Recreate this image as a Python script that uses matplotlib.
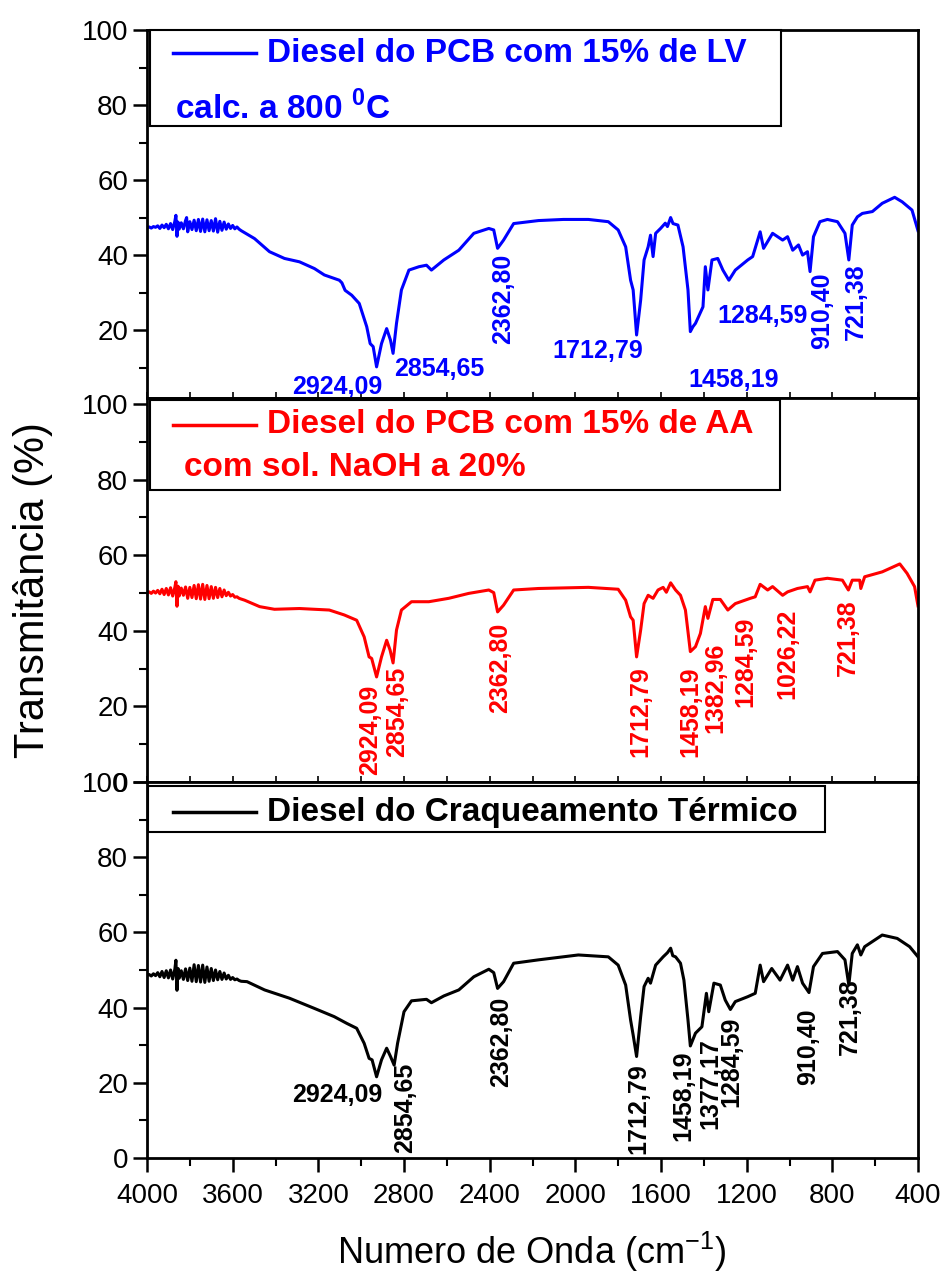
import matplotlib
matplotlib.use('Agg')
import matplotlib.pyplot as plt
from matplotlib.patches import Rectangle
from matplotlib.ticker import MultipleLocator

plt.rcParams['font.family'] = ['Liberation Sans', 'DejaVu Sans']
plt.rcParams['mathtext.fontset'] = 'custom'
plt.rcParams['mathtext.rm'] = 'Liberation Sans'
plt.rcParams['mathtext.bf'] = 'Liberation Sans:bold'

# ---- espectro 1: Diesel do PCB com 15% de LV (azul)
w_lv = [4000, 3990, 3980, 3970, 3960, 3950, 3940, 3930, 3920, 3910, 3900, 3890, 3880, 3870, 3865,
        3860, 3855, 3850, 3840, 3830, 3820, 3815, 3810, 3800, 3790, 3780, 3770, 3760, 3750, 3740,
        3730, 3720, 3710, 3700, 3690, 3680, 3670, 3660, 3650, 3640, 3630, 3620, 3610, 3600, 3590,
        3580, 3570, 3560,
        3498, 3428, 3358, 3288, 3218, 3172, 3102, 3090, 3075, 3044, 3009, 2974, 2958, 2944, 2928,
        2905, 2881, 2863, 2851, 2835, 2812, 2777, 2730, 2695, 2672, 2614, 2544, 2474, 2404, 2381,
        2363, 2335, 2288, 2172, 2056, 1939, 1846, 1800, 1765, 1742, 1730, 1714, 1695, 1679, 1660,
        1649, 1637, 1625, 1602, 1580, 1570, 1555, 1544, 1521, 1497, 1474, 1463, 1451, 1439, 1404,
        1393, 1381, 1362, 1335, 1311, 1283, 1253, 1195, 1172, 1137, 1121, 1079, 1032, 1009, 985,
        958, 939, 916, 904, 888, 858, 823, 776, 741, 723, 707, 683, 660, 613, 567, 509, 474, 428, 400]
t_lv = [47.3, 47.5, 47.2, 47.6, 47.4, 47.8, 47.1, 48.0, 47.3, 48.2, 47.0, 48.4, 46.8, 49.0, 50.6,
        45.0, 48.8, 46.9, 48.6, 47.0, 49.2, 50.0, 46.2, 48.9, 46.8, 49.3, 46.5, 49.5, 46.3, 49.6,
        46.2, 49.4, 46.5, 49.2, 46.4, 49.7, 46.1, 49.0, 46.6, 48.8, 46.9, 48.3, 47.1, 47.9, 47.0,
        47.5, 46.9, 46.5,
        44.4, 40.9, 39.1, 38.2, 36.4, 34.7, 33.3, 32.6, 30.6, 29.3, 27.1, 20.9, 16.4, 15.6, 10.2,
        16.4, 20.4, 17.3, 13.8, 21.8, 30.7, 36.0, 36.9, 37.3, 36.0, 38.7, 41.3, 45.8, 47.1, 46.7,
        41.8, 44.0, 48.4, 49.2, 49.5, 49.5, 48.9, 46.7, 42.2, 33.3, 30.7, 18.7, 28.0, 38.7, 42.2,
        45.3, 39.6, 45.8, 47.1, 48.5, 47.6, 50.0, 48.4, 48.0, 42.2, 30.7, 19.6, 20.9, 21.8, 26.2,
        36.9, 30.7, 38.7, 39.1, 36.0, 33.3, 36.0, 38.7, 39.6, 46.2, 41.8, 45.8, 44.0, 44.9, 41.3,
        42.7, 40.0, 40.9, 35.6, 44.9, 48.9, 49.5, 48.9, 45.8, 38.7, 48.0, 50.2, 51.1, 51.6, 53.8,
        55.4, 54.2, 52.0, 46.5]

# ---- espectro 2: Diesel do PCB com 15% de AA (vermelho)
w_aa = [4000, 3990, 3980, 3970, 3960, 3950, 3940, 3930, 3920, 3910, 3900, 3890, 3880, 3870, 3865,
        3860, 3855, 3850, 3840, 3830, 3820, 3810, 3800, 3790, 3780, 3770, 3760, 3750, 3740, 3730,
        3720, 3710, 3700, 3690, 3680, 3670, 3660, 3650, 3640, 3630, 3620, 3610, 3600, 3590, 3580,
        3570, 3560,
        3544, 3474, 3405, 3288, 3149, 3079, 3021, 2986, 2963, 2951, 2928, 2905, 2881, 2865, 2851,
        2835, 2812, 2765, 2684, 2591, 2498, 2404, 2381, 2363, 2335, 2288, 2172, 1939, 1800, 1765,
        1742, 1730, 1714, 1695, 1679, 1660, 1637, 1614, 1590, 1575, 1555, 1532, 1509, 1486, 1463,
        1439, 1416, 1393, 1381, 1358, 1323, 1288, 1253, 1183, 1160, 1137, 1102, 1079, 1032, 1009,
        963, 916, 904, 881, 823, 753, 725, 707, 672, 667, 649, 567, 485, 451, 416, 400]
t_aa = [50.1, 50.3, 49.9, 50.5, 50.0, 50.7, 49.8, 51.0, 49.6, 51.2, 49.5, 51.4, 49.2, 51.5, 53.0,
        46.5, 51.8, 49.2, 51.3, 49.4, 51.6, 48.6, 51.5, 48.8, 52.0, 48.5, 52.2, 48.4, 52.3, 48.3,
        52.0, 48.5, 51.7, 48.6, 51.5, 48.8, 51.2, 49.0, 50.8, 49.3, 50.2, 49.2, 49.6, 48.9, 49.0,
        48.6, 48.4,
        48.1, 46.4, 45.7, 45.9, 45.5, 44.2, 42.8, 38.4, 33.1, 32.7, 27.8, 33.1, 37.5, 34.9, 31.5,
        40.2, 45.5, 47.7, 47.7, 48.6, 49.9, 50.8, 50.1, 45.0, 46.8, 50.8, 51.2, 51.5, 51.0, 48.1,
        43.7, 42.8, 33.1, 40.2, 47.2, 49.4, 48.6, 50.8, 51.5, 50.2, 52.7, 50.8, 49.4, 45.5, 34.5,
        35.8, 39.3, 46.4, 43.3, 48.3, 48.3, 45.5, 47.2, 48.6, 49.0, 52.3, 50.8, 51.7, 49.4, 50.3,
        51.2, 51.7, 50.3, 53.4, 53.9, 53.4, 50.8, 53.4, 53.4, 51.2, 54.3, 55.6, 57.7, 55.2, 51.7, 46.6]

# ---- espectro 3: Diesel do Craqueamento Termico (preto)
w_ct = [4000, 3990, 3980, 3970, 3960, 3950, 3940, 3930, 3920, 3910, 3900, 3890, 3880, 3870, 3865,
        3860, 3855, 3850, 3840, 3830, 3820, 3810, 3800, 3790, 3780, 3770, 3760, 3750, 3740, 3730,
        3720, 3710, 3700, 3690, 3680, 3670, 3660, 3650, 3640, 3630, 3620, 3610, 3600, 3590, 3580,
        3570, 3560,
        3533, 3451, 3335, 3219, 3126, 3067, 3021, 2986, 2963, 2949, 2928, 2905, 2881, 2863, 2846,
        2830, 2800, 2765, 2695, 2672, 2614, 2544, 2474, 2404, 2381, 2363, 2335, 2288, 2172, 1986,
        1846, 1800, 1765, 1742, 1730, 1714, 1695, 1679, 1660, 1649, 1625, 1590, 1570, 1555, 1545,
        1532, 1509, 1493, 1474, 1463, 1439, 1409, 1388, 1377, 1353, 1323, 1300, 1276, 1253, 1195,
        1160, 1137, 1121, 1083, 1044, 1009, 985, 963, 939, 909, 888, 846, 776, 741, 723, 707, 683,
        667, 649, 567, 497, 439, 400]
t_ct = [48.6, 48.8, 48.4, 49.0, 48.5, 49.3, 48.2, 49.6, 48.0, 49.8, 47.9, 50.0, 47.6, 50.2, 52.6,
        44.6, 50.4, 47.8, 49.8, 47.5, 50.3, 47.2, 50.5, 47.0, 51.4, 46.9, 51.2, 46.8, 51.3, 46.7,
        50.8, 47.0, 50.4, 47.2, 50.0, 47.4, 49.6, 47.5, 49.2, 47.6, 48.6, 47.5, 48.0, 47.4, 47.6,
        47.2, 47.0,
        46.9, 44.7, 42.5, 39.8, 37.6, 35.8, 34.5, 30.5, 26.5, 26.1, 21.6, 26.1, 29.2, 27.0, 24.7,
        30.5, 38.9, 41.8, 42.2, 41.3, 43.1, 44.7, 48.2, 50.2, 49.3, 45.1, 46.9, 51.8, 52.7, 54.0,
        53.5, 51.3, 46.0, 36.7, 32.7, 27.0, 37.6, 45.6, 47.8, 46.5, 51.3, 53.5, 54.6, 55.8, 53.8,
        53.5, 51.8, 47.3, 36.7, 29.8, 33.2, 34.9, 43.8, 38.9, 46.5, 46.0, 42.0, 39.5, 41.6, 42.9,
        43.8, 51.3, 46.9, 50.4, 47.3, 51.3, 47.3, 50.9, 46.5, 44.0, 50.9, 54.4, 54.9, 52.7, 46.0,
        54.4, 56.7, 54.0, 56.2, 59.3, 58.4, 56.2, 53.5]

# rotulos dos picos: texto, posicao (x, y), rotacao
picos_lv = ['2924,09', '2854,65', '2362,80', '1712,79', '1458,19', '1284,59', '910,40', '721,38']
pos_lv = [(3114, 4.9), (2637, 9.6), (2335, 28.3), (1893, 14.5), (1259, 6.6), (1125, 23.8),
          (846, 25.2), (690, 27.5)]
rot_lv = [0, 0, 90, 0, 0, 0, 90, 90]

picos_aa = ['2924,09', '2854,65', '2362,80', '1712,79', '1458,19', '1382,96', '1284,59',
            '1026,22', '721,38']
pos_aa = [(2959, 13.8), (2830, 18.6), (2353, 30.1), (1695, 18.5), (1462, 18.5), (1346, 24.8),
          (1206, 31.8), (1009, 33.9), (729, 38.1)]
rot_aa = [90] * 9

picos_ct = ['2924,09', '2854,65', '2362,80', '1712,79', '1458,19', '1377,17', '1284,59',
            '910,40', '721,38']
pos_ct = [(3114, 16.8), (2795, 13.3), (2347, 30.8), (1707, 13.0), (1497, 16.6), (1369, 19.7),
          (1271, 25.5), (915, 29.6), (718, 37.6)]
rot_ct = [0, 90, 90, 90, 90, 90, 90, 90, 90]

fig = plt.figure(figsize=(9.44, 12.77), dpi=100)
L, W = 147 / 944, 771 / 944
ax1 = fig.add_axes([L, 1 - 398 / 1277, W, 368 / 1277])
ax2 = fig.add_axes([L, 1 - 782 / 1277, W, 384 / 1277])
ax3 = fig.add_axes([L, 1 - 1158 / 1277, W, 376 / 1277])


def painel(ax, w, t, cor, picos, pos, rot, ylim):
    ax.plot(w, t, color=cor, lw=2.2)
    ax.set_xlim(4000, 400)
    ax.set_ylim(*ylim)
    ax.xaxis.set_major_locator(MultipleLocator(400))
    ax.xaxis.set_minor_locator(MultipleLocator(200))
    ax.yaxis.set_major_locator(MultipleLocator(20))
    ax.yaxis.set_minor_locator(MultipleLocator(10))
    for s in ax.spines.values():
        s.set_linewidth(2)
    ax.tick_params(axis='y', which='major', direction='out', length=10, width=1.8, labelsize=20)
    ax.tick_params(axis='y', which='minor', direction='out', length=6, width=1.5)
    for txt, (x, y), r in zip(picos, pos, rot):
        ax.text(x, y, txt, color=cor, fontsize=18, fontweight='bold', rotation=r,
                ha='center', va='center')


painel(ax1, w_lv, t_lv, '#0000FF', picos_lv, pos_lv, rot_lv, (1.9, 100))
painel(ax2, w_aa, t_aa, '#FF0000', picos_aa, pos_aa, rot_aa, (0, 101.6))
painel(ax3, w_ct, t_ct, 'black', picos_ct, pos_ct, rot_ct, (0, 100))

for ax in (ax1, ax2):
    ax.tick_params(axis='x', which='both', direction='in', length=4, width=1.2, labelbottom=False)
ax3.tick_params(axis='x', which='major', direction='out', length=10, width=1.8, labelsize=20, pad=8)
ax3.tick_params(axis='x', which='minor', direction='out', length=6, width=1.5)


# caixas de legenda
def legenda(ax, box, ly, linhas, cor):
    ax.add_patch(Rectangle((box[0], box[1]), box[2], box[3], transform=ax.transAxes,
                           fill=True, facecolor='white', edgecolor='black', lw=1.5,
                           zorder=5, clip_on=False))
    ax.plot([0.034, 0.141], [ly, ly], color=cor, lw=2.5, transform=ax.transAxes, zorder=6)
    for txt, x, y in linhas:
        ax.text(x, y, txt, color=cor, fontsize=24, fontweight='bold', transform=ax.transAxes,
                ha='left', va='center', zorder=6)


legenda(ax1, (0.004, 0.739, 0.818, 0.261), 0.9375,
        [('Diesel do PCB com 15% de LV', 0.156, 0.9375),
         (r'calc. a 800 $^\mathbf{0}$C', 0.036, 0.787)], '#0000FF')
legenda(ax2, (0.004, 0.760, 0.817, 0.234), 0.930,
        [('Diesel do PCB com 15% de AA', 0.156, 0.930),
         ('com sol. NaOH a 20%', 0.048, 0.818)], '#FF0000')
legenda(ax3, (0.001, 0.867, 0.878, 0.122), 0.920,
        [('Diesel do Craqueamento Térmico', 0.156, 0.920)], 'black')

fig.text(33 / 944, 1 - 590 / 1277, 'Transmitância (%)', rotation=90, ha='center', va='center',
         fontsize=30)
fig.text(532 / 944, 1 - 1252 / 1277, r'Numero de Onda (cm$^{-1}$)', ha='center', va='center',
         fontsize=26)

fig.savefig('out.png', dpi=100)
